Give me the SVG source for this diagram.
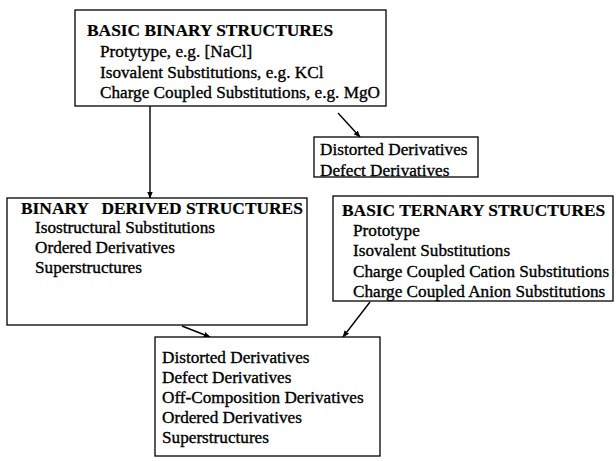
<svg xmlns="http://www.w3.org/2000/svg" width="616" height="461" viewBox="0 0 616 461">
<style>
.box{fill:#fff;stroke:#000;stroke-width:1.3}
text{font-family:"Liberation Serif","Times New Roman",serif;font-size:17.2px;fill:#000;stroke:#000;stroke-width:0.35}
.t{font-weight:bold;stroke-width:0.2;font-size:17.4px}
.c{stroke:#000;stroke-width:1.4;fill:none}
</style>
<defs>
<marker id="ah" viewBox="0 0 10 10" refX="9" refY="5" markerWidth="7" markerHeight="7" orient="auto" markerUnits="userSpaceOnUse">
<path d="M0,1 L10,5 L0,9 z" fill="#000"/>
</marker>
</defs>
<rect width="616" height="461" fill="#fff"/>
<g id="connectors">
<line class="c" x1="150" y1="106" x2="150" y2="198" marker-end="url(#ah)"/>
<line class="c" x1="338" y1="113" x2="360" y2="137" marker-end="url(#ah)"/>
<line class="c" x1="182" y1="326" x2="210" y2="337" marker-end="url(#ah)"/>
<line class="c" x1="370" y1="302" x2="343" y2="337" marker-end="url(#ah)"/>
</g>
<g id="basic-binary">
<rect class="box" x="75" y="10" width="311" height="96"/>
<text class="t" x="87" y="36">BASIC BINARY STRUCTURES</text>
<text x="100" y="57">Protytype, e.g. [NaCl]</text>
<text x="100" y="78">Isovalent Substitutions, e.g. KCl</text>
<text x="100" y="98">Charge Coupled Substitutions, e.g. MgO</text>
</g>
<g id="binary-variants">
<rect class="box" x="314" y="137" width="164" height="40"/>
<text x="320" y="155">Distorted Derivatives</text>
<text x="320" y="176">Defect Derivatives</text>
</g>
<g id="binary-derived">
<rect class="box" x="7" y="198" width="300" height="127"/>
<text class="t" x="21" y="214" xml:space="preserve">BINARY   DERIVED STRUCTURES</text>
<text x="35" y="233">Isostructural Substitutions</text>
<text x="35" y="253">Ordered Derivatives</text>
<text x="35" y="273">Superstructures</text>
</g>
<g id="basic-ternary">
<rect class="box" x="333" y="196" width="280" height="105"/>
<text class="t" x="342" y="216">BASIC TERNARY STRUCTURES</text>
<text x="353" y="236">Prototype</text>
<text x="353" y="256">Isovalent Substitutions</text>
<text x="353" y="277">Charge Coupled Cation Substitutions</text>
<text x="353" y="297">Charge Coupled Anion Substitutions</text>
</g>
<g id="derivatives">
<rect class="box" x="155" y="337" width="225" height="119"/>
<text x="162" y="363">Distorted Derivatives</text>
<text x="162" y="383">Defect Derivatives</text>
<text x="162" y="403">Off-Composition Derivatives</text>
<text x="162" y="423">Ordered Derivatives</text>
<text x="162" y="443">Superstructures</text>
</g>
</svg>
